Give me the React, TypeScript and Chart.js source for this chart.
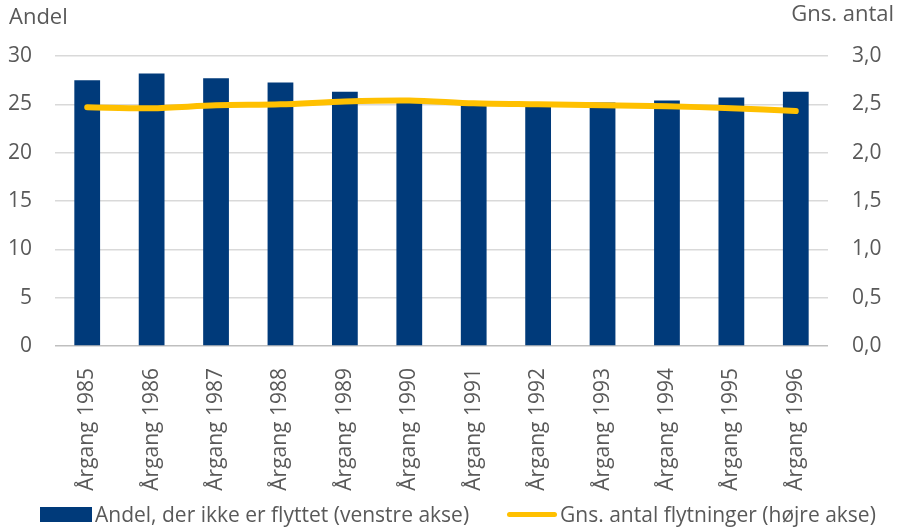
import React, { useEffect, useRef } from "react";
import { Chart, registerables } from "chart.js";

Chart.register(...registerables);

const categories = ["Årgang 1985","Årgang 1986","Årgang 1987","Årgang 1988","Årgang 1989","Årgang 1990","Årgang 1991","Årgang 1992","Årgang 1993","Årgang 1994","Årgang 1995","Årgang 1996"];
const andel = [27.5, 28.2, 27.7, 27.25, 26.3, 25.5, 25.0, 25.0, 25.2, 25.4, 25.7, 26.3];
const gnsAntal = [2.47, 2.46, 2.49, 2.5, 2.53, 2.54, 2.51, 2.5, 2.49, 2.48, 2.46, 2.43];
const leftTitle = "Andel";
const rightTitle = "Gns. antal";
const barLabel = "Andel, der ikke er flyttet (venstre akse)";
const lineLabel = "Gns. antal flytninger (højre akse)";

const FONT = "'Open Sans', 'Noto Sans', sans-serif";
const GRAY = "#595959";
const BLUE = "#003A7A";
const YELLOW = "#FFC000";

const titlesPlugin = {
  id: "titles",
  afterDraw(chart: any) {
    const ctx = chart.ctx;
    ctx.save();
    ctx.font = `22px ${FONT}`;
    ctx.fillStyle = GRAY;
    ctx.textBaseline = "middle";
    ctx.textAlign = "left";
    ctx.fillText(leftTitle, 9, 18);
    ctx.textAlign = "right";
    ctx.fillText(rightTitle, 894, 15);
    ctx.restore();
  },
};

export default function App() {
  const ref = useRef<HTMLCanvasElement>(null);
  useEffect(() => {
    if (!ref.current) return;
    const chart = new Chart(ref.current, {
      data: {
        labels: categories,
        datasets: [
          {
            type: "line",
            label: lineLabel,
            data: gnsAntal,
            yAxisID: "y1",
            borderColor: YELLOW,
            borderWidth: 6,
            pointRadius: 0,
            tension: 0.3,
            borderCapStyle: "round",
            order: 0,
          } as any,
          {
            type: "bar",
            label: barLabel,
            data: andel,
            yAxisID: "y",
            backgroundColor: BLUE,
            categoryPercentage: 1,
            barPercentage: 0.4,
            order: 1,
          } as any,
        ],
      },
      options: {
        animation: false,
        responsive: false,
        maintainAspectRatio: false,
        layout: { padding: { top: 56, left: 0, right: 0, bottom: 0 } },
        plugins: { legend: { display: false }, tooltip: { enabled: false } },
        scales: {
          x: {
            grid: { display: false },
            border: { display: false },
            afterFit: (s: any) => { s.height = 182; },
            ticks: {
              color: GRAY,
              font: { family: FONT, size: 21 },
              maxRotation: 90,
              minRotation: 90,
              autoSkip: false,
              padding: 14,
            },
          },
          y: {
            position: "left",
            min: 0,
            max: 30,
            afterFit: (s: any) => { s.width = 55; },
            ticks: { stepSize: 5, color: GRAY, font: { family: FONT, size: 21 }, padding: 23 },
            grid: {
              color: (c: any) => (c.tick && c.tick.value === 0 ? "#bfbfbf" : "#d9d9d9"),
              lineWidth: 1.5,
              drawTicks: false,
            },
            border: { display: false },
          },
          y1: {
            position: "right",
            min: 0,
            max: 3,
            afterFit: (s: any) => { s.width = 73; },
            ticks: {
              stepSize: 0.5,
              color: GRAY,
              font: { family: FONT, size: 21 },
              padding: 24,
              callback: (v: any) => Number(v).toFixed(1).replace(".", ","),
            },
            grid: { display: false, drawTicks: false },
            border: { display: false },
          },
        },
      },
      plugins: [titlesPlugin],
    });
    return () => chart.destroy();
  }, []);

  return (
    <div style={{ position: "absolute", left: 0, top: 0, width: 901, height: 528, background: "#fff", fontFamily: FONT }}>
      <canvas ref={ref} width={901} height={528} style={{ display: "block" }} />
      <div style={{ position: "absolute", left: 40, top: 499, height: 30, display: "flex", alignItems: "center", color: GRAY, fontSize: 21, whiteSpace: "nowrap" }}>
        <span style={{ display: "inline-block", width: 52, height: 15, background: BLUE, marginRight: 3 }} />
        <span>{barLabel}</span>
        <span style={{ display: "inline-block", width: 50, height: 5, borderRadius: 3, background: YELLOW, marginLeft: 38, marginRight: 3 }} />
        <span>{lineLabel}</span>
      </div>
    </div>
  );
}
